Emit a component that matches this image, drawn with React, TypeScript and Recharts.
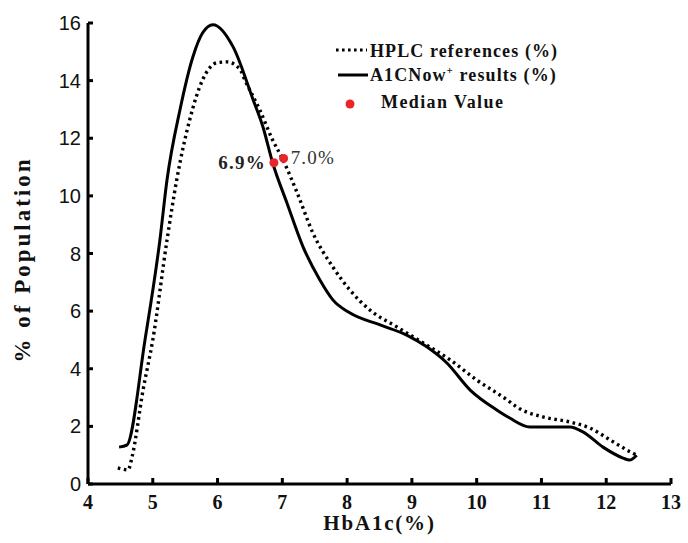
import React from 'react';
import { ComposedChart, Line, Scatter, XAxis, YAxis, LabelList } from 'recharts';

// HPLC references (%) - dotted curve
const hplcX = [4.46, 4.62, 4.68, 4.85, 5.0, 5.22, 5.37, 5.57, 5.77, 5.99, 6.15, 6.35, 6.42, 6.65, 6.85, 7.01, 7.23, 7.47, 7.78, 8.04, 8.35, 8.77, 9.17, 9.59, 10.0, 10.47, 10.62, 11.02, 11.44, 11.75, 12.06, 12.32, 12.47];
const hplcY = [0.56, 0.49, 0.94, 3.26, 5.0, 8.47, 10.56, 12.64, 14.03, 14.62, 14.65, 14.38, 14.03, 12.99, 11.94, 11.25, 10.1, 8.72, 7.53, 6.74, 6.04, 5.45, 4.9, 4.31, 3.61, 2.92, 2.67, 2.33, 2.15, 1.94, 1.53, 1.18, 1.0];

// A1CNow+ results (%) - solid curve
const a1cX = [4.48, 4.6, 4.88, 5.11, 5.22, 5.42, 5.62, 5.77, 5.93, 6.24, 6.55, 6.7, 6.85, 7.07, 7.32, 7.58, 7.78, 8.04, 8.51, 8.92, 9.23, 9.54, 9.9, 10.31, 10.51, 10.82, 11.44, 11.64, 11.95, 12.26, 12.36, 12.47];
const a1cY = [1.28, 1.35, 5.0, 8.47, 10.56, 12.99, 14.83, 15.66, 15.94, 15.17, 13.33, 12.4, 11.15, 9.76, 8.23, 7.08, 6.39, 5.94, 5.52, 5.17, 4.76, 4.2, 3.26, 2.57, 2.29, 1.98, 1.98, 1.81, 1.28, 0.9, 0.83, 1.0];

// Median values
const medianX = [6.87, 7.02];
const medianY = [11.15, 11.3];
const medianLabels = ['6.9%', '7.0%'];

const xTicks = [4, 5, 6, 7, 8, 9, 10, 11, 12, 13];
const yTicks = [0, 2, 4, 6, 8, 10, 12, 14, 16];

const legendLabels = ['HPLC references (%)', 'A1CNow', ' results (%)', 'Median Value'];

const hplc = hplcX.map((x, i) => ({ x, y: hplcY[i] }));
const a1c = a1cX.map((x, i) => ({ x, y: a1cY[i] }));
const medians = medianX.map((x, i) => ({ x, y: medianY[i], label: medianLabels[i] }));

const serif = '"Liberation Serif", "DejaVu Serif", serif';
const sans = '"Liberation Sans", Arial, sans-serif';

const XTick = (props: any) => {
  const { x, y, payload } = props;
  return (
    <g>
      <line x1={x} y1={y} x2={x} y2={y - 6} stroke="#000" strokeWidth={3} />
      <text x={x} y={y + 25} textAnchor="middle" fontFamily={serif} fontWeight="bold" fontSize={20} fill="#111">
        {payload.value}
      </text>
    </g>
  );
};

const YTick = (props: any) => {
  const { x, y, payload } = props;
  return (
    <g>
      <line x1={x} y1={y} x2={x + 5} y2={y} stroke="#000" strokeWidth={3} />
      <text x={x - 7} y={y + 7} textAnchor="end" fontFamily={sans} fontSize={20} fill="#111">
        {payload.value}
      </text>
    </g>
  );
};

const MedianLabel = (props: any) => {
  const { x, y, width, height, value, index } = props;
  const cx = x + (width || 0) / 2;
  const cy = y + (height || 0) / 2;
  const left = index === 0;
  return (
    <text
      x={left ? cx - 8 : cx + 7}
      y={cy + 6}
      textAnchor={left ? 'end' : 'start'}
      fontFamily={serif}
      fontWeight={left ? 'bold' : 'normal'}
      fontSize={19}
      letterSpacing={1.2}
      fill={left ? '#222' : '#333'}
    >
      {value}
    </text>
  );
};

const RedDot = (props: any) => {
  const { cx, cy } = props;
  return <circle cx={cx} cy={cy} r={4.5} fill="#e8262a" />;
};

export default function App() {
  return (
    <div style={{ position: 'absolute', left: 0, top: 0, width: 688, height: 543, background: '#fff' }}>
      <ComposedChart width={688} height={543} margin={{ top: 23, right: 17, left: 28, bottom: 0 }}>
        <XAxis
          type="number"
          dataKey="x"
          domain={[4, 13]}
          ticks={xTicks}
          allowDataOverflow
          height={59}
          tickSize={0}
          tickMargin={0}
          tickLine={false}
          tick={<XTick />}
          axisLine={{ stroke: '#000', strokeWidth: 3 }}
          label={{
            content: (p: any) => {
              const vb = p.viewBox;
              return (
                <text x={vb.x + vb.width / 2} y={vb.y + 46} textAnchor="middle" fontFamily={serif} fontWeight="bold" fontSize={21} letterSpacing={1.8} fill="#111">
                  HbA1c(%)
                </text>
              );
            },
          }}
        />
        <YAxis
          type="number"
          dataKey="y"
          domain={[0, 16]}
          ticks={yTicks}
          width={60}
          tickSize={0}
          tickMargin={0}
          tickLine={false}
          tick={<YTick />}
          axisLine={{ stroke: '#000', strokeWidth: 3 }}
          label={{
            content: (p: any) => {
              const vb = p.viewBox;
              const cx = 22;
              const cy = vb.y + vb.height / 2 + 6;
              return (
                <text x={cx} y={cy} transform={`rotate(-90 ${cx} ${cy})`} textAnchor="middle" dominantBaseline="central" fontFamily={serif} fontWeight="bold" fontSize={23} letterSpacing={3} fill="#111">
                  % of Population
                </text>
              );
            },
          }}
        />
        <Line data={hplc} dataKey="y" type="monotone" stroke="#000" strokeWidth={3.4} strokeDasharray="2.6 3.6" dot={false} isAnimationActive={false} />
        <Line data={a1c} dataKey="y" type="monotone" stroke="#000" strokeWidth={3} dot={false} isAnimationActive={false} />
        <Scatter data={medians} dataKey="y" fill="#e8262a" shape={<RedDot />} isAnimationActive={false}>
          <LabelList dataKey="label" content={<MedianLabel />} />
        </Scatter>
      </ComposedChart>
      <svg width={688} height={543} style={{ position: 'absolute', left: 0, top: 0, pointerEvents: 'none' }}>
        <line x1={336} y1={50} x2={367} y2={50} stroke="#000" strokeWidth={3.2} strokeDasharray="2.6 3.4" />
        <text x={370} y={57} fontFamily={serif} fontWeight="bold" fontSize={18} letterSpacing={1.1} fill="#111">
          {legendLabels[0]}
        </text>
        <line x1={338} y1={75} x2={368} y2={75} stroke="#000" strokeWidth={3} />
        <text x={370} y={81} fontFamily={serif} fontWeight="bold" fontSize={18} letterSpacing={1.1} fill="#111">
          {legendLabels[1]}
          <tspan dy={-7} fontSize={11}>+</tspan>
          <tspan dy={7}>{legendLabels[2]}</tspan>
        </text>
        <circle cx={350} cy={104} r={4.5} fill="#e8262a" />
        <text x={381} y={108} fontFamily={serif} fontWeight="bold" fontSize={18} letterSpacing={1.4} fill="#111">
          {legendLabels[3]}
        </text>
      </svg>
    </div>
  );
}
